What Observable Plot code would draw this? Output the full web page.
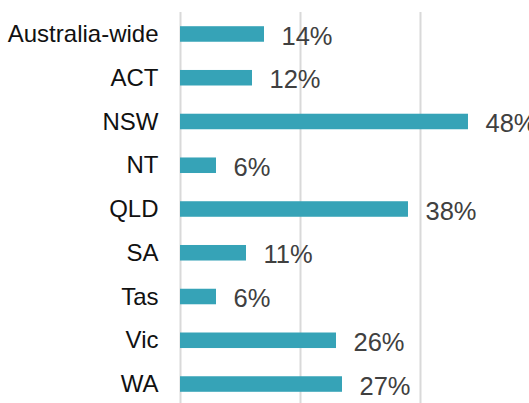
<!DOCTYPE html>
<html>
<head>
<meta charset="utf-8">
<script src="https://cdn.jsdelivr.net/npm/d3@7"></script>
<script src="https://cdn.jsdelivr.net/npm/@observablehq/plot@0.6"></script>
<style>
  html, body { margin: 0; padding: 0; background: #fff; }
  svg { display: block; }
</style>
</head>
<body>
<div id="chart"></div>
<script>
const categories = ["Australia-wide", "ACT", "NSW", "NT", "QLD", "SA", "Tas", "Vic", "WA"];
const values = [14, 12, 48, 6, 38, 11, 6, 26, 27];
const gridTicks = [0, 20, 40];

const data = categories.map((c, i) => ({category: c, value: values[i]}));

const chart = Plot.plot({
  width: 529,
  height: 403,
  marginLeft: 180,
  marginRight: 0,
  marginTop: 12,
  marginBottom: 0,
  style: {fontFamily: "'Liberation Sans', Arial, sans-serif", fontSize: "24px", background: "#fff"},
  x: {domain: [0, 58.17], axis: null},
  y: {domain: categories, range: [12.1, 405.9], paddingInner: 0.645, paddingOuter: 0.3225, align: 0.5, round: false, label: null},
  marks: [
    Plot.ruleX(gridTicks, {stroke: "#d9d9d9", strokeWidth: 2}),
    Plot.barX(data, {x: "value", y: "category", fill: "#36a3b7"}),
    Plot.text(data, {x: "value", y: "category", text: d => d.value + "%", textAnchor: "start", dx: 17, dy: 2, fill: "#404040", fontSize: 25.5}),
    Plot.axisY({tickSize: 0, tickPadding: 22, fontSize: 24, color: "#111", label: null})
  ]
});
document.getElementById("chart").appendChild(chart);
</script>
</body>
</html>
